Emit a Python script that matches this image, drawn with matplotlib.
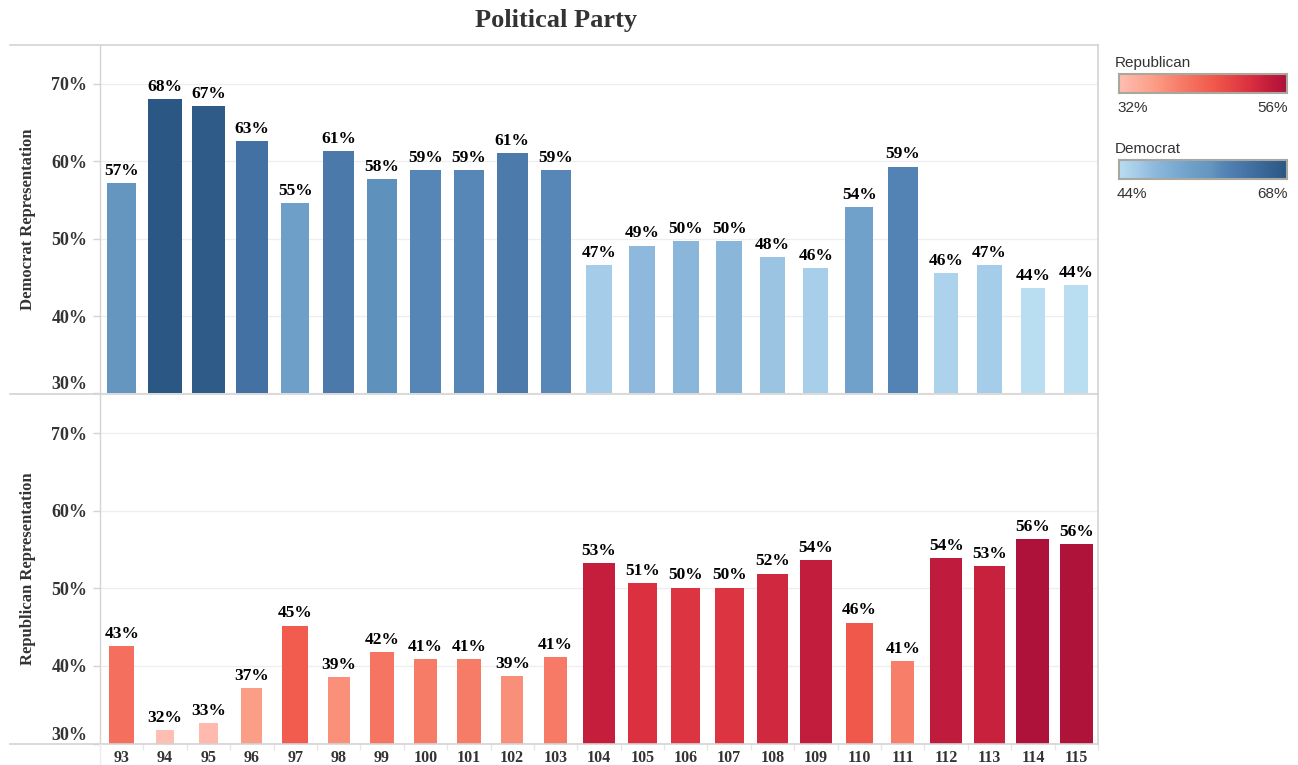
import matplotlib
matplotlib.use('Agg')
import matplotlib.pyplot as plt
import numpy as np
from matplotlib.colors import LinearSegmentedColormap, Normalize
from matplotlib.lines import Line2D

# ---------------- data ----------------
congress = ['93', '94', '95', '96', '97', '98', '99', '100', '101', '102', '103', '104',
            '105', '106', '107', '108', '109', '110', '111', '112', '113', '114', '115']
dem_pct = [57.2, 68.0, 67.1, 62.6, 54.6, 61.3, 57.7, 58.9, 58.8, 61.0, 58.8, 46.6,
           49.1, 49.7, 49.7, 47.6, 46.2, 54.1, 59.3, 45.6, 46.6, 43.6, 44.0]
rep_pct = [42.6, 31.7, 32.6, 37.1, 45.2, 38.6, 41.8, 40.9, 40.9, 38.7, 41.1, 53.3,
           50.7, 50.1, 50.1, 51.9, 53.6, 45.6, 40.6, 53.9, 52.9, 56.4, 55.7]
dem_range = (44, 68)
rep_range = (32, 56)
y_ticks = [30, 40, 50, 60, 70]

# ---------------- style ----------------
W, H = 1298, 765
SERIF = ['Liberation Serif', 'DejaVu Serif']
SANS = ['Liberation Sans', 'DejaVu Sans']
TXT = '#333333'
FRAME = '#d3d3d3'
GRID = '#eeeeee'

blue_cmap = LinearSegmentedColormap.from_list(
    'tab_blue', [(0.0, '#b9ddf1'), (0.1, '#a6cde9'), (0.21, '#8eb9dc'),
                 (0.43, '#6ea0c9'), (0.55, '#6496c0'), (0.62, '#5586b6'),
                 (0.78, '#4371a3'), (1.0, '#2a5783')])
red_cmap = LinearSegmentedColormap.from_list(
    'tab_red', [(0.0, '#ffbeb2'), (0.2, '#fc9f88'), (0.38, '#f67a66'),
                (0.57, '#f0584b'), (0.78, '#db3040'), (0.89, '#c41e3c'),
                (1.0, '#ae123a')])

fig = plt.figure(figsize=(W / 100, H / 100), dpi=100)
fig.patch.set_facecolor('white')


def fx(px):
    return px / W


def fy(py):
    return 1 - py / H


left_px, right_px = 100, 1098
top1, bot1 = 45, 393.5
top2, bot2 = 394.5, 743.5

ax1 = fig.add_axes([fx(left_px), fy(bot1), fx(right_px - left_px), (bot1 - top1) / H])
ax2 = fig.add_axes([fx(left_px), fy(bot2), fx(right_px - left_px), (bot2 - top2) / H])

x = np.arange(len(congress))
px_per_unit = (right_px - left_px) / len(congress)


def draw_panel(ax, vals, cmap, vrange, wrange_px, ylabel):
    vals = np.asarray(vals)
    norm = Normalize(vrange[0], vrange[1])
    colors = cmap(norm(vals))
    t = np.clip((vals - vrange[0]) / (vrange[1] - vrange[0]), 0, 1)
    widths = (wrange_px[0] + t * (wrange_px[1] - wrange_px[0])) / px_per_unit
    ax.bar(x, vals, width=widths, color=colors, zorder=3)
    for xi, v in zip(x, vals):
        ax.annotate(f'{int(v + 0.5)}%', (xi, v), xytext=(0, 3), textcoords='offset points',
                    ha='center', va='bottom', fontsize=12.5, fontweight='bold',
                    family=SERIF, color='black', zorder=4)
    ax.set_xlim(-0.5, len(congress) - 0.5)
    ax.set_ylim(30, 75)
    ax.set_yticks(y_ticks)
    ax.set_yticklabels([f'{t}%' for t in y_ticks])
    for lab in ax.get_yticklabels():
        lab.set_fontfamily(SERIF)
        lab.set_fontweight('bold')
        lab.set_fontsize(13)
        lab.set_color(TXT)
    ax.get_yticklabels()[0].set_verticalalignment('bottom')
    ax.tick_params(axis='y', length=5, color=FRAME, width=1, pad=4)
    ax.grid(axis='y', color=GRID, linewidth=0.9, zorder=0)
    for s in ['top', 'right', 'bottom']:
        ax.spines[s].set_visible(False)
    ax.spines['left'].set_color(FRAME)
    ax.spines['left'].set_linewidth(1)
    ax.set_ylabel(ylabel, fontsize=12, fontweight='bold', family=SERIF, color=TXT,
                  labelpad=0)
    ax.yaxis.set_label_coords(-(100 - 28) / (right_px - left_px), 0.5)
    ax.yaxis.label.set_verticalalignment('center')


draw_panel(ax1, dem_pct, blue_cmap, dem_range, (24, 34), 'Democrat Representation')
draw_panel(ax2, rep_pct, red_cmap, rep_range, (18, 33), 'Republican Representation')

ax1.set_xticks([])
ax2.set_xticks(x)
ax2.set_xticklabels(congress, fontsize=11.5, fontweight='bold', family=SERIF, color=TXT)
ax2.tick_params(axis='x', length=0, pad=5)
ax2.set_xticks(np.arange(-0.5, len(congress), 1.0), minor=True)
ax2.tick_params(axis='x', which='minor', length=4, color='#e6e6e6', width=1)

# frame lines (Tableau-like panes)
for ypx in [top1, 394, 744]:
    fig.add_artist(Line2D([fx(10), fx(right_px)], [fy(ypx), fy(ypx)], color=FRAME, lw=1.2))
fig.add_artist(Line2D([fx(right_px), fx(right_px)], [fy(top1), fy(744)], color=FRAME, lw=1.2))
fig.add_artist(Line2D([fx(left_px), fx(left_px)], [fy(744), fy(765)], color='#eeeeee', lw=1))

# title
fig.text(fx(556), fy(20), 'Political Party', ha='center', va='center', fontsize=19,
         fontweight='bold', family=SERIF, color=TXT)


# legends (color ramps)
def ramp(label, cmap, vrange, top_px):
    fig.text(fx(1115), fy(top_px), label, ha='left', va='center', fontsize=11,
             family=SANS, color=TXT)
    cax = fig.add_axes([fx(1119), fy(top_px + 30), fx(168), 19 / H])
    grad = np.linspace(0, 1, 256).reshape(1, -1)
    cax.imshow(grad, aspect='auto', cmap=cmap, extent=[0, 1, 0, 1])
    cax.set_xticks([])
    cax.set_yticks([])
    for s in cax.spines.values():
        s.set_color('#a9a8a0')
        s.set_linewidth(1.5)
    fig.text(fx(1117), fy(top_px + 45), f'{vrange[0]}%', ha='left', va='center',
             fontsize=11, family=SANS, color=TXT)
    fig.text(fx(1288), fy(top_px + 45), f'{vrange[1]}%', ha='right', va='center',
             fontsize=11, family=SANS, color=TXT)


ramp('Republican', red_cmap, rep_range, 63)
ramp('Democrat', blue_cmap, dem_range, 149)

fig.savefig('out.png', dpi=100, facecolor='white')
